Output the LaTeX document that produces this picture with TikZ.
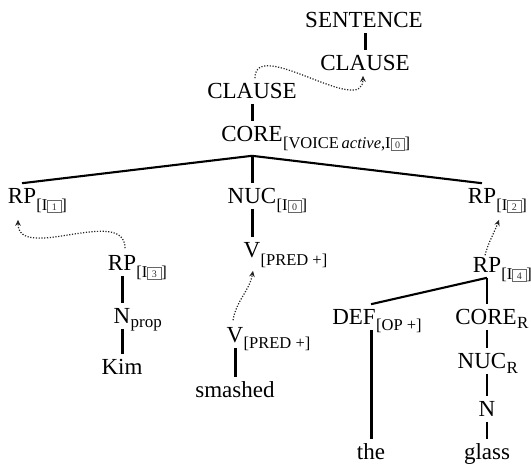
\documentclass[tikz,border=0pt]{standalone}
\usepackage{fontspec}
\setmainfont{Liberation Serif}
\usetikzlibrary{arrows.meta,calc}

% small framed index (tag boxes inside the feature brackets)
\newcommand\idxbox[1]{{\setlength\fboxsep{1.8pt}\setlength\fboxrule{0.7pt}%
  \textcolor{black!60}{\fbox{\makebox[9pt]{\rule{0pt}{8.5pt}\textcolor{black!80}{\fontsize{10}{10}\selectfont#1}}}}}}

\tikzset{
  cat/.style={inner xsep=0pt, inner ysep=5pt, text height=15.2pt, text depth=0pt,
              font=\fontsize{23}{23}\selectfont},
  sub/.style={inner sep=0pt, anchor=base west, font=\fontsize{16.5}{16.5}\selectfont},
  subsm/.style={inner sep=0pt, anchor=base west, font=\fontsize{17}{17}\selectfont},
  tree/.style={line width=3pt},
  thintree/.style={line width=2.2pt},
  fan/.style={line width=2.1pt},
  link/.style={line width=1.2pt, black!85, dash pattern=on 1.2pt off 1.6pt,
               -{Stealth[length=6pt,width=5.5pt]}}
}

\begin{document}
\begin{tikzpicture}[x=1pt, y=-1pt]
\useasboundingbox (0,0) rectangle (531,466);

% upper clause
\node[cat] (sentence) at (364,20) {SENTENCE};
\node[cat] (clauseA) at (365,63) {CLAUSE};

% lower clause
\node[cat] (clauseB) at (252,91) {CLAUSE};
\node[cat] (core) at (252,134) {CORE};
\node[sub] (coresub) at ([yshift=-7pt]core.base east) {[VOICE\,\textit{active},I\idxbox{0}]};

\node[cat] (rp1) at (22,196) {RP};
\node[sub] (rp1sub) at ([yshift=-7pt]rp1.base east) {[I\idxbox{1}]};
\node[cat] (nuc) at (252,196) {NUC};
\node[sub] (nucsub) at ([yshift=-7pt]nuc.base east) {[I\idxbox{0}]};
\node[cat] (rp2) at (482,196) {RP};
\node[sub] (rp2sub) at ([yshift=-7pt]rp2.base east) {[I\idxbox{2}]};

\node[cat] (v1) at (252,250) {V};
\node[sub] (v1sub) at ([yshift=-8pt]v1.base east) {[PRED +]};

% Kim
\node[cat] (rp3) at (122,263) {RP};
\node[sub] (rp3sub) at ([yshift=-7pt]rp3.base east) {[I\idxbox{3}]};
\node[cat] (nprop) at (122,316) {N};
\node[subsm] (npropsub) at ([yshift=-4pt]nprop.base east) {prop};
\node[cat] (kim) at (122,367) {Kim};

% smashed
\node[cat] (v2) at (235,335) {V};
\node[sub] (v2sub) at ([yshift=-6pt]v2.base east) {[PRED +]};
\node[cat] (smashed) at (235,390) {smashed};

% the glass
\node[cat] (rp4) at (487,265) {RP};
\node[sub] (rp4sub) at ([yshift=-7pt]rp4.base east) {[I\idxbox{4}]};
\node[cat] (def) at (354,317) {DEF};
\node[sub] (defsub) at ([yshift=-6pt]def.base east) {[OP +]};
\node[cat] (coreR) at (486,317) {CORE};
\node[subsm] (coreRsub) at ([yshift=-4pt]coreR.base east) {R};
\node[cat] (nucR) at (482,361) {NUC};
\node[subsm] (nucRsub) at ([yshift=-5pt]nucR.base east) {R};
\node[cat] (n) at (487,409) {N};
\node[cat] (the) at (371,452) {the};
\node[cat] (glass) at (487,452) {glass};

% tree branches
\draw[tree] (sentence.south -| clauseA) -- (clauseA.north);
\draw[tree] (clauseB.south) -- (core.north);
\coordinate (coreroot) at ([yshift=-9pt]core.south);
\draw[fan] (coreroot) -- (rp1.north);
\draw[tree] (coreroot) -- (nuc.north);
\draw[fan] (coreroot) -- (rp2.north);
\draw[tree] (nuc.south) -- (v1.north);
\draw[tree] (rp3.south) -- (nprop.north);
\draw[tree] (nprop.south) -- (kim.north);
\draw[tree] (v2.south) -- (smashed.north);
\draw[fan] (rp4.south) -- (def.north -| the);
\draw[fan] (rp4.south) -- (rp4.south |- coreR.north);
\draw[tree] (def.south -| the) -- (the.north);
\draw[thintree] (coreR.south -| n) -- (nucR.north -| n);
\draw[thintree] (nucR.south -| n) -- (n.north);
\draw[thintree] (n.south) -- (glass.north);

% dotted links
\draw[link] ([xshift=3pt]clauseB.north) to[out=90,in=-90] ([xshift=-2pt]clauseA.south);
\draw[link] ([xshift=3pt,yshift=2pt]rp3.north) to[out=90,in=-90] ([xshift=-4pt,yshift=-11pt]rp1.south);
\draw[link] ([xshift=-2pt,yshift=2pt]v2.north) to[out=80,in=-100] ([xshift=1pt,yshift=-8pt]v1.south);
\draw[link] ([xshift=-2pt,yshift=-3pt]rp4.north) to[out=75,in=-110] ([xshift=17pt,yshift=-11pt]rp2.south);
\end{tikzpicture}
\end{document}
